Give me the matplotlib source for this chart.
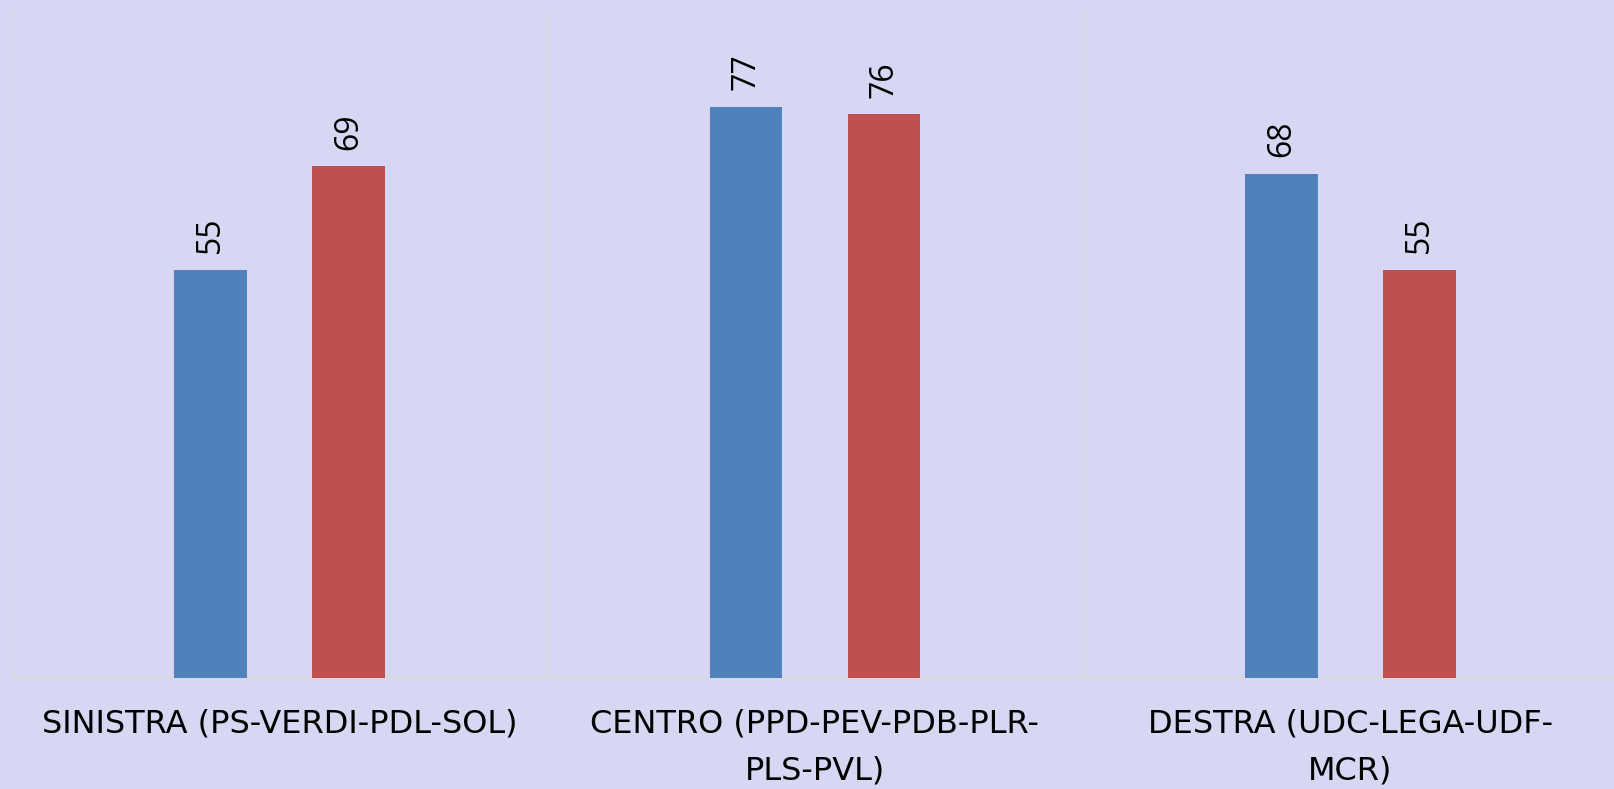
import matplotlib
matplotlib.use("Agg")
import matplotlib.pyplot as plt
import numpy as np

categories = ["SINISTRA (PS-VERDI-PDL-SOL)",
              "CENTRO (PPD-PEV-PDB-PLR-\nPLS-PVL)",
              "DESTRA (UDC-LEGA-UDF-\nMCR)"]
serie_blu = [55, 77, 68]
serie_rossa = [69, 76, 55]

bg = "#D7D7F3"
blu = "#4F81BD"
rosso = "#C0504D"

plt.rcParams["font.family"] = ["Open Sans", "DejaVu Sans"]

fig = plt.figure(figsize=(16.15, 7.89), dpi=100, facecolor=bg)
ax = fig.add_axes([12 / 1615, 1 - 678 / 789, 1606 / 1615, 667.5 / 789])
ax.set_facecolor(bg)

x = np.arange(len(categories))
w = 0.136
off = 0.129
b1 = ax.bar(x - off, serie_blu, w, color=blu, zorder=3)
b2 = ax.bar(x + off, serie_rossa, w, color=rosso, zorder=3)

for bars in (b1, b2):
    for r in bars:
        ax.annotate(str(int(r.get_height())),
                    (r.get_x() + r.get_width() / 2, r.get_height()),
                    xytext=(0, 12), textcoords="offset points",
                    rotation=90, ha="center", va="bottom", fontsize=23)

ax.set_xlim(-0.5, 2.5)
ax.set_ylim(0, 90)
ax.set_yticks([])
ax.set_xticks(x)
ax.set_xticklabels(categories, fontsize=23, linespacing=1.65,
                   family=["DejaVu Sans"])
ax.tick_params(axis="x", length=0, pad=22)
for b in [0.5, 1.5]:
    ax.axvline(b, color="#D9D9D9", lw=1, zorder=1)
for s in ["top", "right"]:
    ax.spines[s].set_visible(False)
ax.spines["left"].set_color("#D9D9D9")
ax.spines["bottom"].set_color("#D9D9D9")
ax.spines["bottom"].set_linewidth(1.5)

fig.savefig("out.png", dpi=100, facecolor=bg)
